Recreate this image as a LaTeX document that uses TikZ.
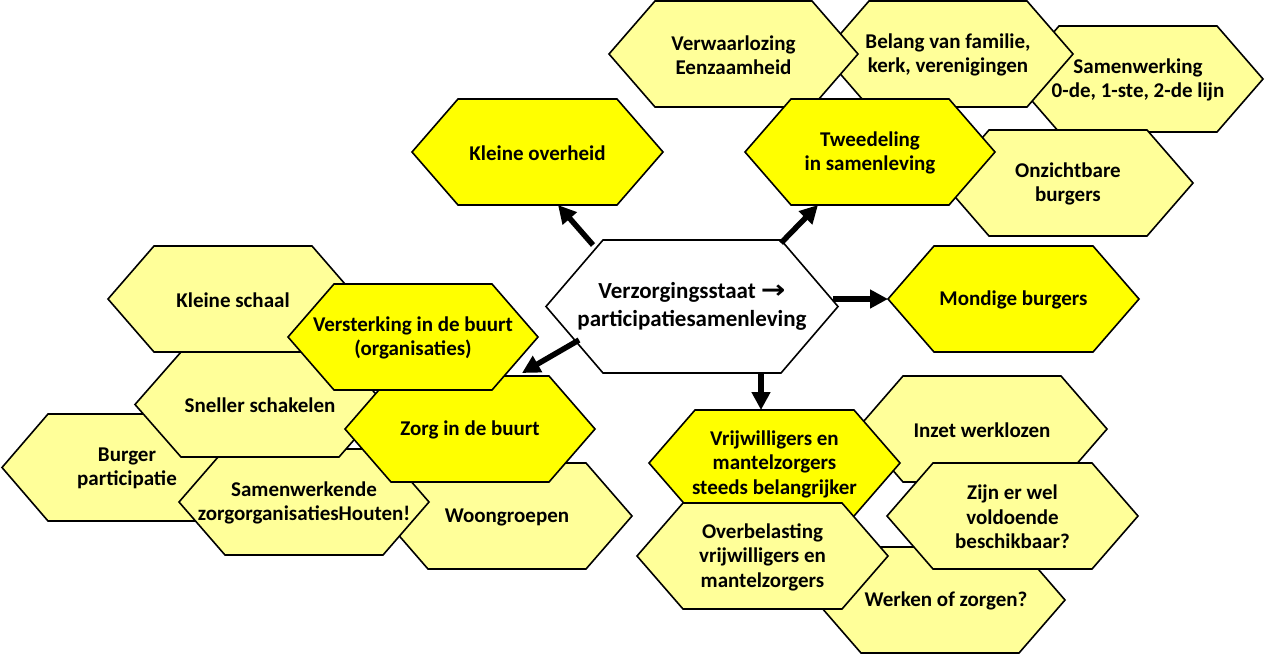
\documentclass[tikz,border=0pt]{standalone}
\usepackage{fontspec}
\setmainfont{Carlito}
\newfontfamily\symfont{DejaVu Sans}
\usetikzlibrary{arrows.meta,calc}
\definecolor{hexbright}{RGB}{255,255,0}
\definecolor{hexlight}{RGB}{255,255,153}
\tikzset{
  hexbox/.style={draw=none,fill=none,inner sep=0pt,outer sep=0pt},
  hexline/.style={draw=black,line width=1.6pt,line join=miter},
  bright/.style={hexline,fill=hexbright},
  light/.style={hexline,fill=hexlight},
  plain/.style={hexline,fill=white},
  hextxt/.style={align=center,inner sep=0pt,yshift=-1pt,font=\fontsize{21}{24.5}\selectfont\bfseries},
  bigtxt/.style={align=center,inner sep=0pt,font=\fontsize{23}{28}\selectfont\bfseries},
  arr/.style={line width=5.5pt,-{Triangle[length=18pt,width=18pt]}}
}
% #1 name, #2 cx, #3 cy, #4 w, #5 h, #6 inset, #7 style, #8 text style, #9 text
\newcommand\hexa[9]{%
  \node[hexbox,minimum width=#4pt,minimum height=#5pt] (#1) at (#2,#3) {};
  \path[#7] (#1.west) -- ([xshift=#6pt]#1.north west) -- ([xshift=-#6pt]#1.north east)
     -- (#1.east) -- ([xshift=-#6pt]#1.south east) -- ([xshift=#6pt]#1.south west) -- cycle;
  \node[#8] at (#1) {#9};
}
\begin{document}
\begin{tikzpicture}[x=1pt,y=-1pt]
\useasboundingbox (0,0) rectangle (1265,654);
% top right cluster
\hexa{samenw}{1138}{79}{250}{106}{46}{light}{hextxt}{Samenwerking\\0-de, 1-ste, 2-de lijn}
\hexa{belang}{948}{54}{250}{106}{46}{light}{hextxt}{Belang van familie,\\kerk, verenigingen}
\hexa{verwaar}{733.5}{54}{249}{106}{46}{light}{hextxt}{Verwaarlozing\\Eenzaamheid}
\hexa{onzicht}{1068}{183}{250}{106}{46}{light}{hextxt}{Onzichtbare\\burgers}
\hexa{tweed}{870}{152}{250}{106}{46}{bright}{hextxt}{Tweedeling\\in samenleving}
\hexa{kleinov}{537.5}{152}{251}{106}{46}{bright}{hextxt}{Kleine overheid}
\hexa{mondig}{1013.5}{299}{251}{106}{46}{bright}{hextxt}{Mondige burgers}
% left cluster
\hexa{kleinsch}{233}{299}{250}{106}{46}{light}{hextxt}{Kleine schaal}
\hexa{burger}{127}{467.5}{250}{107}{46}{light}{hextxt}{Burger\\participatie}
\hexa{woon}{507}{516}{250}{106}{46}{light}{hextxt}{Woongroepen}
\hexa{samwerk}{304}{502}{250}{106}{46}{light}{hextxt}{Samenwerkende\\zorgorganisatiesHouten!}
\hexa{sneller}{260}{404.5}{250}{105}{46}{light}{hextxt}{Sneller schakelen}
\hexa{zorg}{470}{429}{250}{106}{46}{bright}{hextxt}{Zorg in de buurt}
\hexa{verst}{413}{337}{250}{106}{46}{bright}{hextxt}{Versterking in de buurt\\(organisaties)}
% bottom right cluster
\hexa{inzet}{982}{429}{250}{106}{46}{light}{hextxt}{Inzet werklozen}
\hexa{werken}{940}{600}{250}{106}{46}{light}{hextxt}{\hspace*{12pt}Werken of zorgen?}
\hexa{vrijw}{774.5}{463}{251}{106}{46}{bright}{hextxt}{Vrijwilligers en\\mantelzorgers\\steeds belangrijker}
\hexa{zijn}{1012.5}{516}{251}{106}{46}{light}{hextxt}{Zijn er wel\\voldoende\\beschikbaar?}
\hexa{overb}{762.5}{556}{251}{106}{46}{light}{hextxt}{Overbelasting\\vrijwilligers en\\mantelzorgers}
% centre
\hexa{c}{692}{306.5}{292}{133}{57}{plain}{bigtxt}{Verzorgingsstaat {\symfont\bfseries\fontsize{21}{28}\selectfont\scalebox{1.4}[1.2]{→}}\\participatiesamenleving}
% arrows
\draw[arr] ($(c.north)+(-99,5)$) -- ($(kleinov.south)+(20.5,0)$);
\draw[arr] ($(c.north)+(89,3)$) -- ($(tweed.south)+(-52,0)$);
\draw[arr] ($(c.east)+(-5,-7.5)$) -- (mondig.west);
\draw[arr] ($(c.west)+(33,33.5)$) -- ($(zorg.north)+(52,-3)$);
\draw[arr] ($(c.south)+(69,0)$) -- ($(vrijw.north)+(-13.5,0)$);
\end{tikzpicture}
\end{document}
